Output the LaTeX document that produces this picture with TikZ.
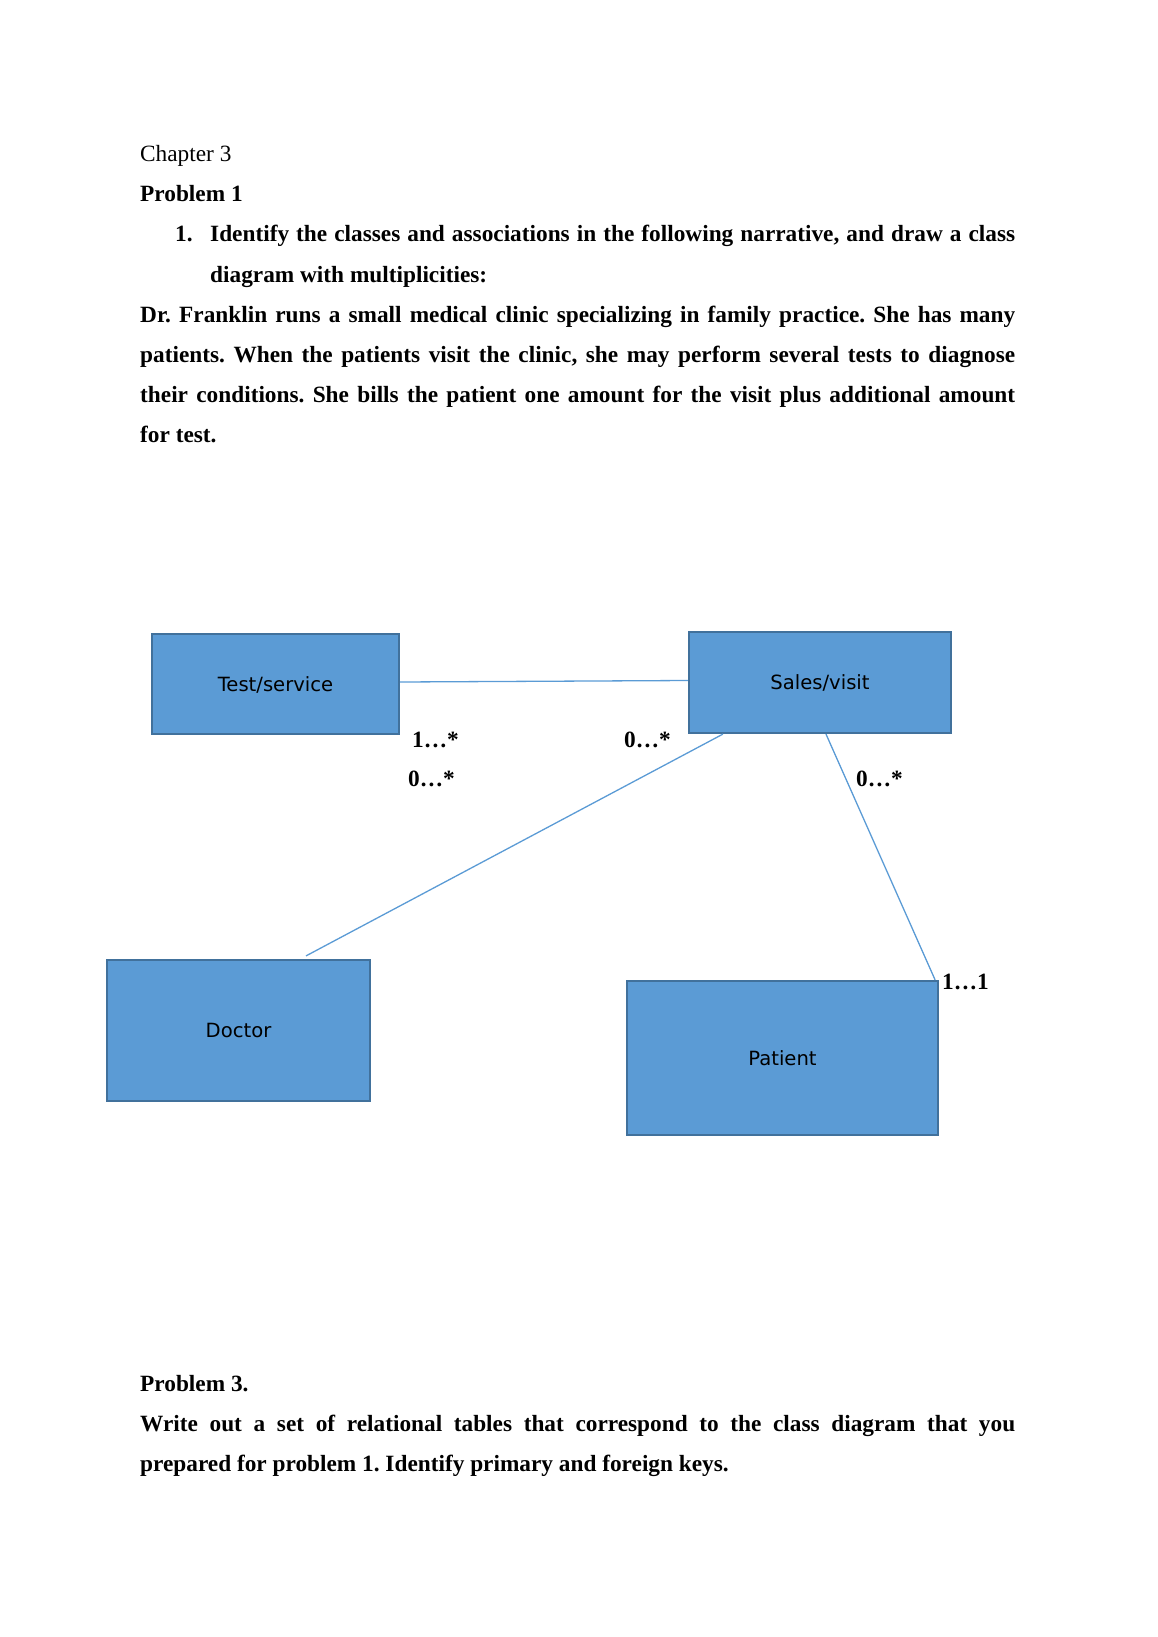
\documentclass[tikz,border=0pt]{standalone}
\usepackage{fontspec}
\setmainfont{Liberation Serif}
\newfontfamily\boxfont{DejaVu Sans}
\definecolor{boxfill}{HTML}{5B9BD5}
\definecolor{boxline}{HTML}{41719C}
\frenchspacing
\begin{document}
\begin{tikzpicture}[x=1pt,y=-1pt,
  txt/.style={anchor=base west,inner sep=0pt,font=\fontsize{23.3}{28}\selectfont},
  btxt/.style={anchor=base west,inner sep=0pt,font=\fontsize{23.3}{28}\selectfont\bfseries},
  cls/.style={draw=boxline,line width=2.2pt,fill=boxfill,inner sep=0pt,text height=14.3pt,text depth=0pt,font=\boxfont\fontsize{19.6}{23}\selectfont},
  assoc/.style={draw=boxfill,line width=1.3pt},
  mult/.style={btxt}]
\useasboundingbox (0,0) rectangle (1157,1637);

% ---- header text ----
\node[txt]  (l1) at (140,162) {Chapter 3};
\node[btxt] (l2) at (140,202) {Problem 1};
\node[btxt] (l3n) at (175,242) {1.};
\node[btxt] (l3) at (210,242) {\makebox[805pt][s]{Identify the classes and associations in the following narrative, and draw a class}};
\node[btxt] (l4) at (210,282) {diagram with multiplicities:};
\node[btxt] (l5) at (140,322) {\makebox[875pt][s]{Dr. Franklin runs a small medical clinic specializing in family practice. She has many}};
\node[btxt] (l6) at (140,362) {\makebox[875pt][s]{patients. When the patients visit the clinic, she may perform several tests to diagnose}};
\node[btxt] (l7) at (140,402) {\makebox[875pt][s]{their conditions. She bills the patient one amount for the visit plus additional amount}};
\node[btxt] (l8) at (140,442) {for test.};

% ---- classes ----
\node[cls,minimum width=247pt,minimum height=100pt] (test) at (275.5,684) {Test/service};
\node[cls,minimum width=262pt,minimum height=101pt] (sales) at (820,682.5) {Sales/visit};
\node[cls,minimum width=263pt,minimum height=141pt] (doctor) at (238.5,1030.5) {Doctor};
\node[cls,minimum width=311pt,minimum height=154pt] (patient) at (782.5,1058) {Patient};

% ---- associations ----
\draw[assoc] ([yshift=2pt]test.east) -- ([yshift=2pt]sales.west);
\draw[assoc] ([xshift=35pt]sales.south west) -- ([xshift=67.5pt,yshift=3pt]doctor.north);
\draw[assoc] ([xshift=6pt]sales.south) -- ([xshift=-4pt]patient.north east);

% ---- multiplicities ----
\node[mult] (m1) at (412,747) {1…*};
\node[mult] (m2) at (624,747) {0…*};
\node[mult] (m3) at (408,786) {0…*};
\node[mult] (m4) at (856,786) {0…*};
\node[mult] (m5) at (942,989) {1…1};

% ---- problem 3 ----
\node[btxt] (p1) at (140,1391) {Problem 3.};
\node[btxt] (p2) at (140,1431) {\makebox[875pt][s]{Write out a set of relational tables that correspond to the class diagram that you}};
\node[btxt] (p3) at (140,1471) {prepared for problem 1. Identify primary and foreign keys.};
\end{tikzpicture}
\end{document}
